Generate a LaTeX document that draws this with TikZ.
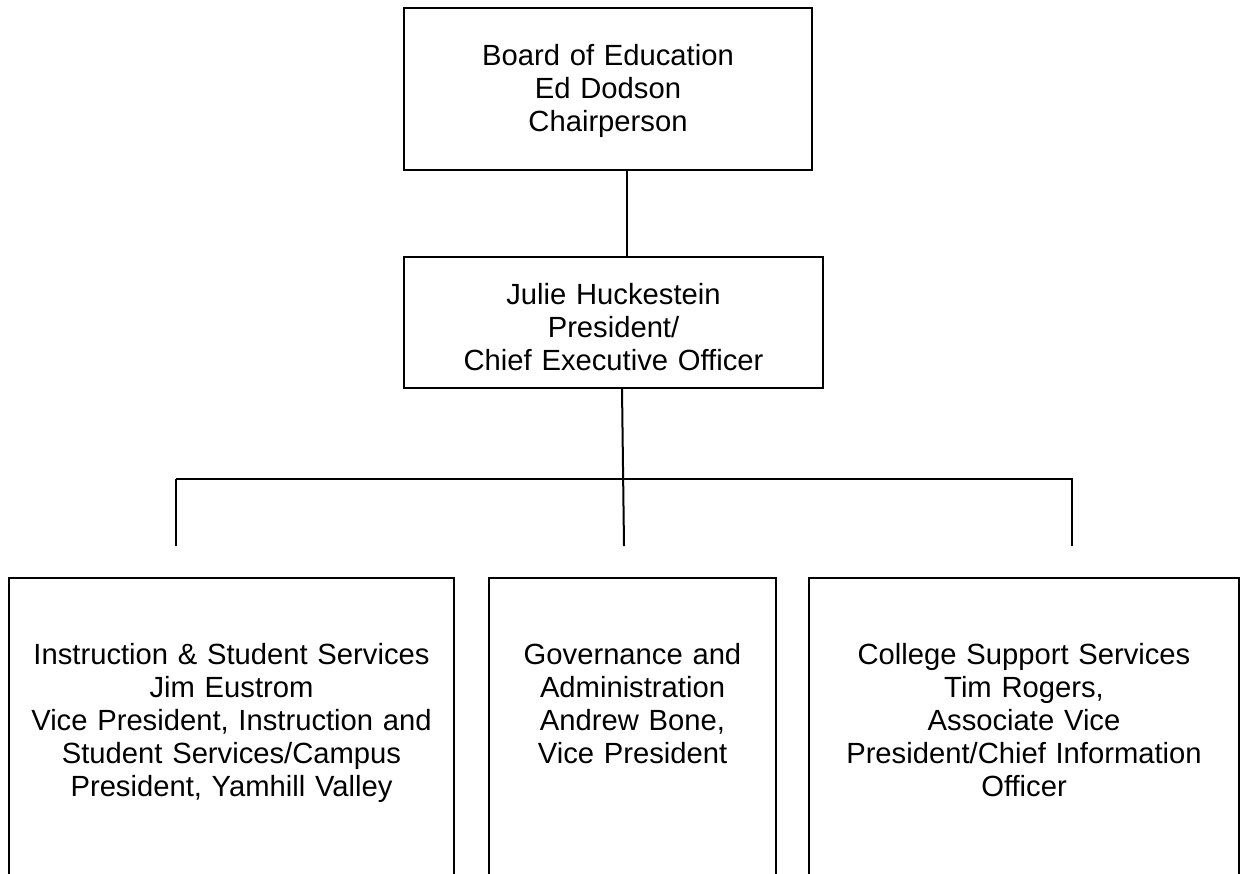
\documentclass[tikz,border=0pt]{standalone}
\usepackage{fontspec}
\setmainfont{Liberation Sans}
\usetikzlibrary{positioning}
\tikzset{
    org-box/.style = {draw, line width=1pt, rectangle, inner sep=0pt, align=center, anchor=north west, font=\fontsize{14.6}{16.5}\selectfont},
    unit-box/.style = {org-box, text height=43pt, text depth=200pt},
    org-line/.style = {line width=1pt},
}
\begin{document}
\begin{tikzpicture}[x=0.5pt, y=-0.5pt]
\useasboundingbox (0,0) rectangle (1240,873);
\clip (0,0) rectangle (1240,873);

% board and president
\node [org-box, text width=204pt, text height=28.5pt, text depth=52.5pt] (board) at (403,7) {Board of Education\\ Ed Dodson\\ Chairperson};
\node [org-box, text width=209.5pt, text height=23.5pt, text depth=42pt] (pres) at (403,256) {Julie Huckestein\\ President/\\ Chief Executive Officer};

% the three units
\node [unit-box, text width=222.5pt] (instr) at (8,577) {Instruction \& Student Services\\ Jim Eustrom\\ Vice President, Instruction and\\ Student Services/Campus\\ President, Yamhill Valley};
\node [unit-box, text width=143.5pt] (gov) at (488,577) {Governance and\\ Administration\\ Andrew Bone,\\ Vice President};
\node [unit-box, text width=215pt] (supp) at (808,577) {College Support Services\\ Tim Rogers,\\ Associate Vice\\ President/Chief Information\\ Officer};

% connectors
\coordinate (trunk) at (627,0);
\coordinate (pres-out) at (622,0);
\coordinate (bus-left) at (176,479);
\coordinate (bus-right) at (1073,479);
\coordinate (drop-left) at (176,546);
\coordinate (drop-mid) at (624,546);
\coordinate (drop-right) at (1072,546);
\draw [org-line] (board.south -| trunk) -- (pres.north -| trunk);
\draw [org-line] (pres.south -| pres-out) -- (drop-mid);
\draw [org-line] (bus-left) -- (bus-right);
\draw [org-line] (bus-left) -- (drop-left);
\draw [org-line] (bus-right -| drop-right) -- (drop-right);
\end{tikzpicture}
\end{document}
